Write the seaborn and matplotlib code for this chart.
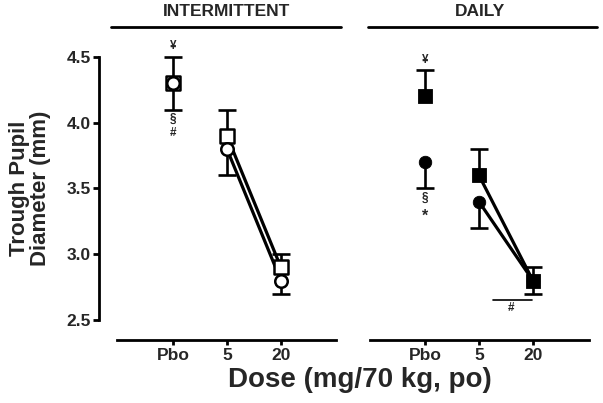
import matplotlib
matplotlib.use("Agg")
import matplotlib.pyplot as plt
import seaborn as sns
import pandas as pd
import numpy as np

# ---- data ----
doses = ["Pbo", "5", "20"]
panels = ["INTERMITTENT", "DAILY"]

int_square_mean = [4.3, 3.9, 2.9]
int_square_err = [0.2, 0.2, 0.1]
int_circle_mean = [4.3, 3.8, 2.8]
int_circle_err = [0.2, 0.2, 0.1]

daily_square_mean = [4.2, 3.6, 2.8]
daily_square_err = [0.2, 0.2, 0.1]
daily_circle_mean = [3.7, 3.4, 2.8]
daily_circle_err = [0.2, 0.2, 0.1]

yticks = [2.5, 3.0, 3.5, 4.0, 4.5]

rows = []
for panel, sq_m, sq_e, ci_m, ci_e in [
    ("INTERMITTENT", int_square_mean, int_square_err, int_circle_mean, int_circle_err),
    ("DAILY", daily_square_mean, daily_square_err, daily_circle_mean, daily_circle_err),
]:
    for i, d in enumerate(doses):
        rows.append(dict(panel=panel, series="square", dose=d, pos=i, mean=sq_m[i], err=sq_e[i]))
        rows.append(dict(panel=panel, series="circle", dose=d, pos=i, mean=ci_m[i], err=ci_e[i]))
df = pd.DataFrame(rows)

sns.set_theme(style="white")
plt.rcParams["font.family"] = ["Liberation Sans", "DejaVu Sans"]
plt.rcParams["font.weight"] = "bold"

fig = plt.figure(figsize=(6.03, 4.03), dpi=100)
W, H = 603, 403
ax1 = fig.add_axes([117 / W, 1 - 340 / H, 219 / W, 313 / H])
ax2 = fig.add_axes([370 / W, 1 - 340 / H, 219 / W, 313 / H])

LW = 1.9
CAP = 12.5


def one_sided(ax, d, up):
    ends = d["mean"] + d["err"] if up else d["mean"] - d["err"]
    lo = np.minimum(d["mean"], ends)
    hi = np.maximum(d["mean"], ends)
    ax.vlines(d["pos"], lo, hi, color="black", linewidth=LW, zorder=2)
    ax.plot(d["pos"], ends, linestyle="none", marker="_", markersize=CAP,
            markeredgewidth=LW, color="black", zorder=2)


for ax, panel, filled, xl in [(ax1, "INTERMITTENT", False, (-1.037, 3.02)),
                              (ax2, "DAILY", True, (-1.02, 3.04))]:
    sub = df[df.panel == panel]
    sq = sub[sub.series == "square"]
    ci = sub[sub.series == "circle"]
    # error bars: squares up, circles down
    one_sided(ax, sq, True)
    one_sided(ax, ci, False)
    # connecting lines (5 -> 20 only)
    conn = sub[sub.dose != "Pbo"]
    sns.lineplot(data=conn, x="pos", y="mean", hue="series", palette={"square": "black", "circle": "black"},
                 estimator=None, sort=False, linewidth=2.3, legend=False, ax=ax, zorder=3)
    fc = "black" if filled else "white"
    sns.scatterplot(data=sq, x="pos", y="mean", marker="s", s=10.0 ** 2, color=fc,
                    edgecolor="black", linewidth=1.8 if not filled else 0.6, ax=ax, zorder=4, legend=False)
    sns.scatterplot(data=ci, x="pos", y="mean", marker="o", s=9.0 ** 2, color=fc,
                    edgecolor="black", linewidth=1.8 if not filled else 0.6, ax=ax, zorder=5, legend=False)

    ax.set_xlim(*xl)
    ax.set_ylim(2.348, 4.728)
    ax.set_xticks(range(len(doses)))
    ax.set_xticklabels(doses, fontsize=12.5, fontweight="bold")
    ax.set_xlabel("")
    ax.set_ylabel("")
    for s in ["top", "right"]:
        ax.spines[s].set_visible(False)
    ax.spines["bottom"].set_linewidth(2.0)
    ax.spines["bottom"].set_color("black")
    ax.tick_params(axis="x", direction="out", length=3.5, width=2.0, color="black", pad=2.5,
                   bottom=True)
    ax.patch.set_alpha(0)
    # header line and title
    ext = (-0.027, 1.023) if panel == "INTERMITTENT" else (-0.009, 1.037)
    ax.plot(list(ext), [1, 1], transform=ax.transAxes, color="black", linewidth=2.0, clip_on=False)
    ax.text(0.5, 1 + 15 / 313, panel, transform=ax.transAxes, ha="center", va="center",
            fontsize=12.5, fontweight="bold")

# left axis styling
ax1.spines["left"].set_position(("outward", 13))
ax1.spines["left"].set_bounds(2.5, 4.5)
ax1.spines["left"].set_linewidth(2.0)
ax1.spines["left"].set_color("black")
ax1.set_yticks(yticks)
ax1.set_yticklabels([f"{v:.1f}" for v in yticks], fontsize=12.5, fontweight="bold")
ax1.tick_params(axis="y", direction="out", length=4, width=2.0, color="black", pad=2, left=True)
ax2.spines["left"].set_visible(False)
ax2.set_yticks([])

# annotations
fs = 8.5
ax1.text(0, 4.585, "¥", ha="center", va="center", fontsize=fs, fontweight="bold")
ax1.text(0, 4.03, "§", ha="center", va="center", fontsize=fs, fontweight="bold")
ax1.text(0, 3.92, "#", ha="center", va="center", fontsize=fs, fontweight="bold")
ax2.text(0, 4.48, "¥", ha="center", va="center", fontsize=fs, fontweight="bold")
ax2.text(0, 3.43, "§", ha="center", va="center", fontsize=fs, fontweight="bold")
ax2.text(0, 3.29, "*", ha="center", va="center", fontsize=fs + 3, fontweight="bold")
ax2.plot([1.26, 1.98], [2.652, 2.652], color="black", linewidth=1.2)
ax2.text(1.6, 2.59, "#", ha="center", va="center", fontsize=fs, fontweight="bold")

fig.text(30 / W, 1 - 188 / H, "Trough Pupil\nDiameter (mm)", rotation=90, ha="center", va="center",
         fontsize=16, fontweight="bold", multialignment="center", linespacing=1.05)
fig.text(360 / W, 1 - 380 / H, "Dose (mg/70 kg, po)", ha="center", va="center",
         fontsize=20, fontweight="bold")

fig.savefig("out.png", dpi=100)
